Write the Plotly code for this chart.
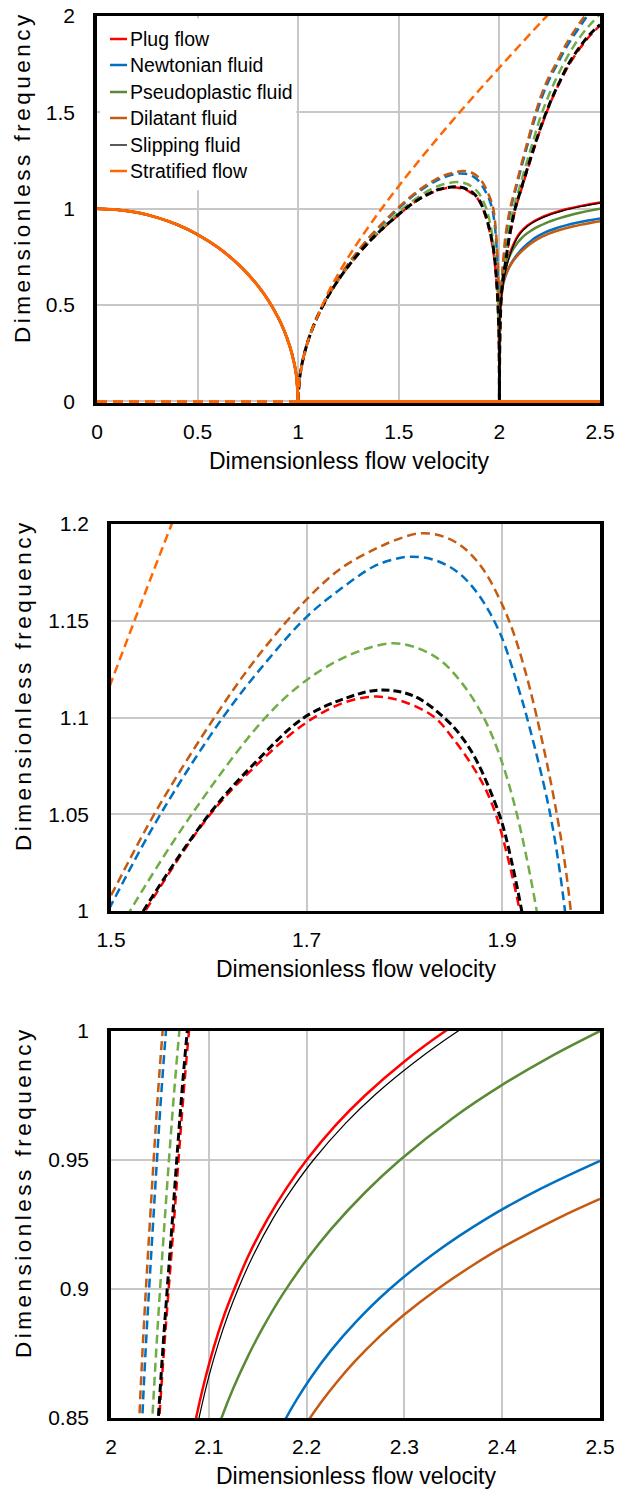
import plotly.graph_objects as go

# ---------------- data ----------------
# quarter-circle branch shared by every model (0 <= u <= 1)
circle_x = [0, 0.1, 0.2, 0.3, 0.4, 0.5, 0.6, 0.7, 0.75, 0.8, 0.85, 0.9, 0.93, 0.96, 0.98, 0.99, 1.0]
circle_y = [1.0, 0.995, 0.98, 0.954, 0.917, 0.866, 0.8, 0.714, 0.661, 0.6, 0.527, 0.436, 0.368, 0.28, 0.199, 0.141, 0.0]

zero_dash_x = [0.0, 1.0]
zero_dash_y = [0.0, 0.0]
flat_x = [1.0, 2.0]
flat_y = [0.0, 0.0]
strat_flat_x = [1.0, 2.5]
strat_flat_y = [0.0, 0.0]

rise_x = [1.0, 1.005, 1.01, 1.02, 1.04, 1.06, 1.08, 1.1]
rise_y = [0.0, 0.1, 0.141, 0.2, 0.284, 0.348, 0.402, 0.45]

# solid branch after u = 2
plug_solid_x = [2.0, 2.0005, 2.002, 2.006, 2.012, 2.02, 2.03, 2.045, 2.06, 2.075, 2.087, 2.095, 2.105, 2.115, 2.125, 2.14, 2.16, 2.18, 2.2, 2.23, 2.26, 2.3, 2.342, 2.4, 2.45, 2.5]
plug_solid_y = [0.0, 0.28, 0.394, 0.494, 0.566, 0.63, 0.685, 0.745, 0.79, 0.826, 0.85, 0.8633, 0.8773, 0.8891, 0.899, 0.9125, 0.9271, 0.9394, 0.95, 0.9636, 0.9751, 0.9882, 1.0, 1.0135, 1.0236, 1.032]
slip_solid_x = [2.0, 2.0005, 2.002, 2.006, 2.013, 2.022, 2.033, 2.048, 2.063, 2.078, 2.09, 2.1, 2.11, 2.12, 2.13, 2.145, 2.165, 2.185, 2.207, 2.24, 2.27, 2.31, 2.355, 2.4, 2.45, 2.5]
slip_solid_y = [0.0, 0.28, 0.39, 0.49, 0.566, 0.63, 0.685, 0.745, 0.79, 0.828, 0.85, 0.866, 0.8791, 0.8903, 0.9, 0.9127, 0.9269, 0.9387, 0.95, 0.9643, 0.9753, 0.9878, 1.0, 1.0103, 1.0203, 1.029]
pseudo_solid_x = [2.0, 2.001, 2.003, 2.008, 2.015, 2.025, 2.04, 2.055, 2.07, 2.085, 2.1, 2.113, 2.125, 2.14, 2.155, 2.175, 2.2, 2.225, 2.26, 2.2955, 2.35, 2.4, 2.45, 2.5]
pseudo_solid_y = [0.0, 0.44, 0.5265, 0.5865, 0.6355, 0.6805, 0.7285, 0.7645, 0.793, 0.8162, 0.8357, 0.85, 0.8615, 0.8739, 0.8848, 0.8976, 0.9113, 0.9232, 0.9375, 0.95, 0.9664, 0.9791, 0.9902, 1.0]
newt_solid_x = [2.0, 2.001, 2.003, 2.008, 2.015, 2.025, 2.04, 2.06, 2.08, 2.1, 2.12, 2.14, 2.16, 2.179, 2.19, 2.205, 2.225, 2.25, 2.285, 2.33, 2.384, 2.44, 2.5]
newt_solid_y = [0.0, 0.4, 0.481, 0.541, 0.59, 0.633, 0.6766, 0.7186, 0.7506, 0.777, 0.7994, 0.8188, 0.8358, 0.85, 0.8572, 0.866, 0.8762, 0.8871, 0.9, 0.9137, 0.9273, 0.939, 0.9497]
dil_solid_x = [2.0, 2.0005, 2.002, 2.006, 2.013, 2.025, 2.045, 2.07, 2.1, 2.13, 2.16, 2.185, 2.2035, 2.215, 2.23, 2.25, 2.275, 2.299, 2.334, 2.37, 2.401, 2.457, 2.5]
dil_solid_y = [0.0, 0.4, 0.4858, 0.5418, 0.5908, 0.6388, 0.6888, 0.7313, 0.7688, 0.7979, 0.8219, 0.8389, 0.85, 0.8562, 0.8635, 0.8722, 0.8817, 0.8898, 0.9, 0.9092, 0.9163, 0.9274, 0.9349]

# dashed branch: hump between 1 and 2
plug_hump_x = [1.15, 1.2, 1.25, 1.3, 1.35, 1.4, 1.45, 1.5, 1.535, 1.5995, 1.65, 1.7, 1.74, 1.7717, 1.8, 1.83, 1.85, 1.87, 1.883, 1.8943, 1.906, 1.918, 1.93, 1.945, 1.96, 1.97, 1.98, 1.99, 1.995, 1.998, 2.0]
plug_hump_y = [0.548, 0.63, 0.702, 0.766, 0.824, 0.876, 0.924, 0.969, 1.0, 1.0487, 1.076, 1.0975, 1.108, 1.1108, 1.108, 1.1004, 1.089, 1.0746, 1.063, 1.0487, 1.027, 1.0, 0.965, 0.91, 0.84, 0.78, 0.69, 0.55, 0.44, 0.32, 0.0]
slip_hump_x = [1.15, 1.2, 1.25, 1.3, 1.35, 1.4, 1.45, 1.5, 1.533, 1.6012, 1.65, 1.6963, 1.74, 1.7751, 1.81, 1.8433, 1.86, 1.875, 1.8978, 1.909, 1.92, 1.932, 1.947, 1.962, 1.972, 1.981, 1.99, 1.995, 1.998, 2.0]
slip_hump_y = [0.549, 0.631, 0.703, 0.768, 0.826, 0.878, 0.926, 0.971, 1.0, 1.0505, 1.078, 1.0996, 1.11, 1.1142, 1.111, 1.0987, 1.089, 1.0765, 1.0487, 1.027, 1.0, 0.965, 0.91, 0.84, 0.78, 0.69, 0.56, 0.44, 0.32, 0.0]
pseudo_hump_x = [1.15, 1.2, 1.25, 1.3, 1.35, 1.4, 1.45, 1.5, 1.5194, 1.5808, 1.6557, 1.7001, 1.745, 1.7853, 1.81, 1.8364, 1.86, 1.8807, 1.8978, 1.9148, 1.9353, 1.945, 1.955, 1.965, 1.975, 1.984, 1.991, 1.996, 1.999, 2.0]
pseudo_hump_y = [0.55, 0.633, 0.705, 0.77, 0.83, 0.884, 0.933, 0.9825, 1.0, 1.0487, 1.0987, 1.1194, 1.1325, 1.1383, 1.1365, 1.1297, 1.117, 1.1004, 1.0798, 1.0505, 1.0, 0.965, 0.92, 0.86, 0.78, 0.68, 0.57, 0.44, 0.3, 0.0]
newt_hump_x = [1.15, 1.2, 1.25, 1.3, 1.35, 1.4, 1.45, 1.5, 1.5501, 1.6149, 1.66, 1.7, 1.735, 1.7682, 1.7875, 1.8057, 1.83, 1.8535, 1.875, 1.8978, 1.9182, 1.9251, 1.9489, 1.9642, 1.972, 1.98, 1.987, 1.992, 1.996, 1.999, 2.0]
newt_hump_y = [0.552, 0.638, 0.713, 0.781, 0.843, 0.9, 0.953, 1.003, 1.0496, 1.1004, 1.1295, 1.152, 1.1665, 1.1779, 1.1815, 1.1831, 1.1815, 1.1755, 1.164, 1.1435, 1.1125, 1.1004, 1.0505, 1.0, 0.955, 0.885, 0.79, 0.68, 0.55, 0.35, 0.0]
dil_hump_x = [1.15, 1.2, 1.25, 1.3, 1.35, 1.4, 1.45, 1.5, 1.5467, 1.6063, 1.65, 1.7, 1.735, 1.7682, 1.79, 1.816, 1.84, 1.86, 1.88, 1.8978, 1.91, 1.9216, 1.9353, 1.9557, 1.9693, 1.976, 1.983, 1.989, 1.994, 1.997, 1.999, 2.0]
dil_hump_y = [0.552, 0.64, 0.716, 0.785, 0.848, 0.905, 0.958, 1.008, 1.0522, 1.1004, 1.1315, 1.161, 1.177, 1.1866, 1.1915, 1.1952, 1.1935, 1.188, 1.177, 1.1607, 1.146, 1.1275, 1.1004, 1.0505, 1.004, 0.955, 0.88, 0.78, 0.66, 0.54, 0.38, 0.0]
strat_hump_x = [1.15, 1.2, 1.25, 1.3, 1.4, 1.5, 1.6, 1.7, 1.8, 1.9, 2.0, 2.1, 2.2, 2.3]
strat_hump_y = [0.568, 0.663, 0.75, 0.831, 0.98, 1.118, 1.249, 1.375, 1.497, 1.616, 1.732, 1.847, 1.96, 2.071]

# dashed branch after u = 2
plug_up_x = [2.0, 2.001, 2.004, 2.01, 2.02, 2.034, 2.0494, 2.0637, 2.0798, 2.112, 2.152, 2.187, 2.222, 2.262, 2.302, 2.345, 2.402, 2.452, 2.5]
plug_up_y = [0.0, 0.2, 0.4, 0.55, 0.65, 0.74, 0.85, 0.9228, 1.0, 1.11, 1.245, 1.36, 1.465, 1.57, 1.66, 1.745, 1.835, 1.9, 1.95]
slip_up_x = [2.0, 2.001, 2.004, 2.01, 2.02, 2.033, 2.0484, 2.062, 2.078, 2.11, 2.15, 2.185, 2.22, 2.26, 2.3, 2.343, 2.4, 2.45, 2.5]
slip_up_y = [0.0, 0.2, 0.4, 0.55, 0.65, 0.74, 0.85, 0.9228, 1.0, 1.11, 1.245, 1.36, 1.465, 1.57, 1.66, 1.75, 1.84, 1.905, 1.955]
pseudo_up_x = [2.0, 2.001, 2.004, 2.009, 2.017, 2.028, 2.0423, 2.0542, 2.0699, 2.1, 2.137, 2.17, 2.202, 2.24, 2.28, 2.318, 2.37, 2.43, 2.5]
pseudo_up_y = [0.0, 0.2, 0.4, 0.55, 0.65, 0.74, 0.85, 0.9228, 1.0, 1.11, 1.245, 1.36, 1.47, 1.575, 1.67, 1.75, 1.845, 1.93, 2.01]
newt_up_x = [2.0, 2.0008, 2.003, 2.008, 2.014, 2.022, 2.032, 2.0426, 2.0562, 2.083, 2.117, 2.147, 2.177, 2.212, 2.25, 2.29, 2.34, 2.4, 2.437, 2.5]
newt_up_y = [0.0, 0.2, 0.4, 0.55, 0.65, 0.74, 0.85, 0.9228, 1.0, 1.11, 1.245, 1.36, 1.47, 1.58, 1.675, 1.755, 1.85, 1.945, 2.0, 2.09]
dil_up_x = [2.0, 2.0007, 2.0028, 2.0075, 2.013, 2.02, 2.029, 2.0399, 2.0528, 2.08, 2.113, 2.143, 2.172, 2.205, 2.242, 2.285, 2.335, 2.39, 2.425, 2.5]
dil_up_y = [0.0, 0.2, 0.4, 0.55, 0.65, 0.74, 0.85, 0.9267, 1.0, 1.11, 1.245, 1.36, 1.47, 1.58, 1.675, 1.76, 1.86, 1.95, 2.0, 2.09]

series_names = ["Plug flow", "Newtonian fluid", "Pseudoplastic fluid", "Dilatant fluid", "Slipping fluid", "Stratified flow"]

x_ticks_1 = [0, 0.5, 1, 1.5, 2, 2.5]
x_text_1 = ["0", "0.5", "1", "1.5", "2", "2.5"]
y_ticks_1 = [0, 0.5, 1, 1.5, 2]
y_text_1 = ["0", "0.5", "1", "1.5", "2"]
x_ticks_2 = [1.5, 1.7, 1.9]
x_text_2 = ["1.5", "1.7", "1.9"]
y_ticks_2 = [1, 1.05, 1.1, 1.15, 1.2]
y_text_2 = ["1", "1.05", "1.1", "1.15", "1.2"]
x_ticks_3 = [2, 2.1, 2.2, 2.3, 2.4, 2.5]
x_text_3 = ["2", "2.1", "2.2", "2.3", "2.4", "2.5"]
y_ticks_3 = [0.85, 0.9, 0.95, 1]
y_text_3 = ["0.85", "0.9", "0.95", "1"]

# ---------------- styles ----------------
solid_colors = ["#FF0000", "#0070C0", "#5A8A36", "#C55A11", "#000000", "#FF6600"]
dash_colors = ["#FF0000", "#0070C0", "#70AD47", "#C55A11", "#000000", "#FF6600"]
legend_widths = [2.5, 2.5, 2.5, 2.5, 1.3, 2.5]
solid_widths = [2.5, 2.5, 2.5, 2.5, 1.2, 3]
dash_widths = [2.5, 2.5, 2.5, 2.5, 3, 2.5]
dash_styles = ["9px,5px", "9px,5px", "9px,5px", "9px,5px", "8px,4px", "9px,5px"]

models = [
    (plug_solid_x, plug_solid_y, plug_hump_x, plug_hump_y, plug_up_x, plug_up_y),
    (newt_solid_x, newt_solid_y, newt_hump_x, newt_hump_y, newt_up_x, newt_up_y),
    (pseudo_solid_x, pseudo_solid_y, pseudo_hump_x, pseudo_hump_y, pseudo_up_x, pseudo_up_y),
    (dil_solid_x, dil_solid_y, dil_hump_x, dil_hump_y, dil_up_x, dil_up_y),
    (slip_solid_x, slip_solid_y, slip_hump_x, slip_hump_y, slip_up_x, slip_up_y),
    (None, None, strat_hump_x, strat_hump_y, None, None),
]

W, H = 619, 1489
FONT = "Liberation Sans, Arial, sans-serif"

fig = go.Figure()

panels = [
    dict(x=(97, 600), y=(16, 403), xr=[0, 2.5], yr=[-0.008, 2], xt=(x_ticks_1, x_text_1), yt=(y_ticks_1, y_text_1)),
    dict(x=(111, 600), y=(524, 911), xr=[1.5, 2.0], yr=[1.0, 1.2], xt=(x_ticks_2, x_text_2), yt=(y_ticks_2, y_text_2)),
    dict(x=(111, 600), y=(1031, 1418), xr=[2.0, 2.5], yr=[0.85, 1.0], xt=(x_ticks_3, x_text_3), yt=(y_ticks_3, y_text_3)),
]


def add_line(x, y, i, solid, smooth, xa, ya, dash=None, width=None):
    if solid:
        line = dict(color=solid_colors[i], width=solid_widths[i])
    else:
        line = dict(color=dash_colors[i], width=width or dash_widths[i], dash=dash or dash_styles[i])
    if smooth:
        line.update(shape="spline", smoothing=1.0)
    fig.add_trace(go.Scatter(x=x, y=y, mode="lines", name=series_names[i], showlegend=False,
                             line=line, xaxis=xa, yaxis=ya, hoverinfo="skip"))


for p_i, p in enumerate(panels):
    xa = "x" if p_i == 0 else f"x{p_i+1}"
    ya = "y" if p_i == 0 else f"y{p_i+1}"
    for i, (sx, sy, hx, hy, ux, uy) in enumerate(models):
        # solid branch
        add_line(circle_x, circle_y, i, True, True, xa, ya)
        if sx is None:
            add_line(strat_flat_x, strat_flat_y, i, True, False, xa, ya)
        else:
            add_line(flat_x, flat_y, i, True, False, xa, ya)
            add_line(sx, sy, i, True, True, xa, ya)
        # dashed branch (flat part drawn with a common dash so the models overlap exactly)
        add_line(zero_dash_x, zero_dash_y, i, False, False, xa, ya, dash="10px,6px", width=3)
        add_line(rise_x + hx, rise_y + hy, i, False, True, xa, ya)
        if ux is not None:
            add_line(ux, uy, i, False, True, xa, ya)

axis_common = dict(showgrid=True, gridcolor="#c8c8c8", gridwidth=1.5, showline=True, linecolor="black",
                   mirror=True, ticks="", zeroline=False, automargin=False,
                   tickfont=dict(family=FONT, size=21, color="black"))

layout_axes = {}
annotations = []
shapes = []
for p_i, p in enumerate(panels):
    sfx = "" if p_i == 0 else str(p_i + 1)
    xdom = [p["x"][0] / W, p["x"][1] / W]
    ydom = [1 - p["y"][1] / H, 1 - p["y"][0] / H]
    layout_axes["xaxis" + sfx] = dict(axis_common, domain=xdom, range=p["xr"], anchor="y" + sfx,
                                      tickvals=p["xt"][0], ticktext=p["xt"][1], linewidth=3, ticklabelstandoff=8)
    layout_axes["yaxis" + sfx] = dict(axis_common, domain=ydom, range=p["yr"], anchor="x" + sfx,
                                      tickvals=p["yt"][0], ticktext=p["yt"][1], linewidth=3.5, ticklabelstandoff=14)
    annotations.append(dict(text="Dimensionless flow velocity", xref="paper", yref="paper",
                            x=(p["x"][0] + p["x"][1]) / 2 / W, y=1 - (p["y"][1] + 58) / H,
                            xanchor="center", yanchor="middle", showarrow=False,
                            font=dict(family=FONT, size=23, color="black")))
    annotations.append(dict(text='<span style="letter-spacing:3.5px">Dimensionless frequency</span>',
                            xref="paper", yref="paper", x=23 / W, y=1 - (p["y"][0] + 161) / H,
                            xanchor="center", yanchor="middle", showarrow=False, textangle=-90,
                            font=dict(family=FONT, size=22.5, color="black")))

# legend drawn inside panel 1
shapes.append(dict(type="rect", xref="x domain", yref="y domain", x0=0.006, x1=0.396, y0=0.55, y1=0.994,
                   fillcolor="white", line=dict(width=0), layer="above"))
leg_rows = [39, 65, 92, 118, 145, 171]
for i, name in enumerate(series_names):
    yy = (403 - leg_rows[i]) / 387
    shapes.append(dict(type="line", xref="x domain", yref="y domain", x0=13 / 503, x1=30 / 503, y0=yy, y1=yy,
                       line=dict(color=solid_colors[i], width=legend_widths[i]), layer="above"))
    annotations.append(dict(text=name, xref="x domain", yref="y domain", x=31 / 503, y=yy,
                            xanchor="left", yanchor="middle", showarrow=False,
                            font=dict(family=FONT, size=19.5, color="black")))

fig.update_layout(width=W, height=H, margin=dict(l=0, r=0, t=0, b=0), plot_bgcolor="white",
                  paper_bgcolor="white", showlegend=False, annotations=annotations, shapes=shapes,
                  **layout_axes)

fig.write_html("out.html")
